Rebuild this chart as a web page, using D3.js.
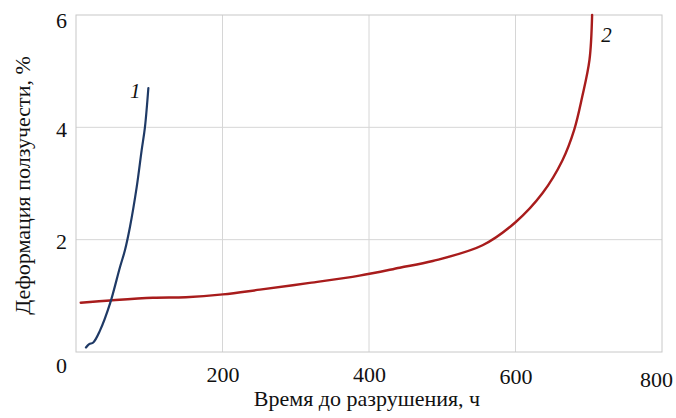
<!DOCTYPE html>
<html>
<head>
<meta charset="utf-8">
<script src="https://cdn.jsdelivr.net/npm/d3@7"></script>
<style>
  html, body { margin: 0; padding: 0; background: #fff; }
  svg { display: block; }
  text { font-family: "Liberation Serif", "Times New Roman", serif; fill: #111; }
</style>
</head>
<body>
<svg id="chart" width="676" height="418"></svg>
<script>
// ---- data ----
const xTicks = [0, 200, 400, 600, 800];
const yTicks = [0, 2, 4, 6];
const xTitle = "Время до разрушения, ч";
const yTitle = "Деформация ползучести, %";

// curve 1 (blue)
const curve1X = [13.6, 18, 23.6, 32.7, 46.4, 60, 66.8, 73.6, 82.8, 89.6, 94.1, 98.8];
const curve1Y = [0.08, 0.14, 0.17, 0.38, 0.86, 1.51, 1.81, 2.22, 2.93, 3.59, 4.0, 4.70];
// curve 2 (red)
const curve2X = [6.4, 46.4, 105, 150, 200.5, 251, 319, 387, 442, 487, 555, 600, 637, 664, 680, 691, 701, 704.6];
const curve2Y = [0.877, 0.918, 0.966, 0.975, 1.025, 1.11, 1.23, 1.36, 1.50, 1.62, 1.90, 2.31, 2.83, 3.41, 3.95, 4.54, 5.20, 6.0];

const curveLabels = ["1", "2"];
const labelX = [73.6, 717];
const labelY = [4.52, 5.52];

// ---- layout ----
const svg = d3.select("#chart");
const margin = { left: 76, right: 14, top: 15, bottom: 66 };
const W = 676, H = 418;
const x = d3.scaleLinear().domain([0, 800]).range([margin.left, W - margin.right]);
const y = d3.scaleLinear().domain([0, 6]).range([H - margin.bottom, margin.top]);

const gridColor = "#d6d6d6";

// gridlines
const g = svg.append("g");
g.selectAll(".vgrid").data(xTicks.filter(d => d > 0 && d < 800)).enter().append("line")
  .attr("x1", d => x(d)).attr("x2", d => x(d))
  .attr("y1", y(0)).attr("y2", y(6))
  .attr("stroke", gridColor).attr("stroke-width", 1);
g.selectAll(".hgrid").data(yTicks.filter(d => d > 0 && d < 6)).enter().append("line")
  .attr("x1", x(0)).attr("x2", x(800))
  .attr("y1", d => y(d)).attr("y2", d => y(d))
  .attr("stroke", gridColor).attr("stroke-width", 1);
// frame
g.append("rect")
  .attr("x", x(0)).attr("y", y(6))
  .attr("width", x(800) - x(0)).attr("height", y(0) - y(6))
  .attr("fill", "none").attr("stroke", "#c8c8c8").attr("stroke-width", 1);

// axes (labels only)
const xAxis = d3.axisBottom(x).tickValues(xTicks.filter(d => d > 0)).tickSize(0).tickPadding(14)
  .tickFormat(d3.format("d"));
const xg = svg.append("g").attr("transform", `translate(0,${y(0)})`).call(xAxis);
xg.select(".domain").remove();
xg.selectAll("text").attr("font-size", 22)
  .style("font-family", '"Liberation Serif", serif').attr("fill", "#111")
  .attr("dx", d => d === 800 ? -6 : 0)
  .attr("dy", d => d === 800 ? "0.95em" : (d === 600 ? "0.82em" : "0.71em"));

const yAxis = d3.axisLeft(y).tickValues(yTicks).tickSize(0).tickPadding(9)
  .tickFormat(d3.format("d"));
const yg = svg.append("g").attr("transform", `translate(${x(0)},0)`).call(yAxis);
yg.select(".domain").remove();
yg.selectAll("text").attr("font-size", 22)
  .style("font-family", '"Liberation Serif", serif').attr("fill", "#111")
  .attr("dy", d => d === 0 ? "0.95em" : (d === 6 ? "0.55em" : "0.4em"));

// titles
svg.append("text")
  .attr("x", (x(0) + x(800)) / 2 - 2).attr("y", 406)
  .attr("text-anchor", "middle").attr("font-size", 22)
  .text(xTitle);
svg.append("text")
  .attr("transform", `translate(30,${(y(0) + y(6)) / 2 + 2}) rotate(-90)`)
  .attr("text-anchor", "middle").attr("font-size", 22)
  .text(yTitle);

// curves
const line = d3.line().x(d => x(d[0])).y(d => y(d[1])).curve(d3.curveCatmullRom.alpha(0.5));
const c1 = curve1X.map((v, i) => [v, curve1Y[i]]);
const c2 = curve2X.map((v, i) => [v, curve2Y[i]]);

svg.append("path").datum(c2).attr("d", line)
  .attr("fill", "none").attr("stroke", "#a81c1c").attr("stroke-width", 2.4)
  .attr("stroke-linecap", "round").attr("stroke-linejoin", "round");
svg.append("path").datum(c1).attr("d", line)
  .attr("fill", "none").attr("stroke", "#1f3a66").attr("stroke-width", 2.2)
  .attr("stroke-linecap", "round").attr("stroke-linejoin", "round");

// curve labels
svg.selectAll(".clabel").data(curveLabels).enter().append("text")
  .attr("x", (d, i) => x(labelX[i])).attr("y", (d, i) => y(labelY[i]))
  .attr("font-size", 21).attr("font-style", "italic")
  .text(d => d);
</script>
</body>
</html>
